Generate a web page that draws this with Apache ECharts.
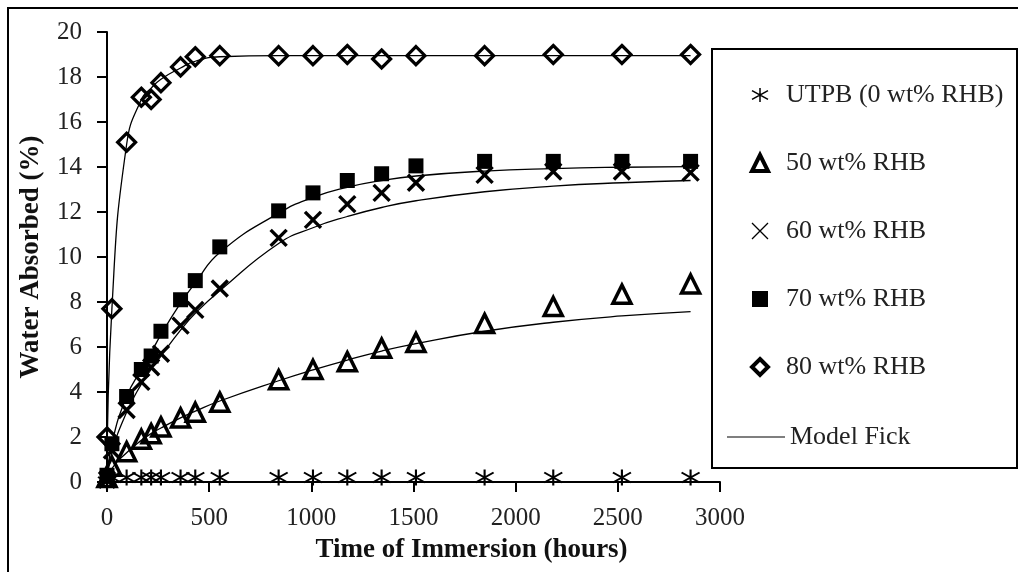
<!DOCTYPE html>
<html>
<head>
<meta charset="utf-8">
<script src="https://cdn.jsdelivr.net/npm/echarts@6/dist/echarts.min.js"></script>
<style>html,body{margin:0;padding:0;background:#fff}#chart{width:1018px;height:572px}</style>
</head>
<body>
<div id="chart"></div>
<script>
// time points (hours) shared by all series
var hours = [0, 24, 96, 168, 216, 264, 360, 432, 552, 840, 1008, 1176, 1344, 1512, 1848, 2184, 2520, 2856];

// measured water absorption (%)
var utpb  = [0, 0.2, 0.2, 0.2, 0.2, 0.2, 0.2, 0.2, 0.2, 0.2, 0.2, 0.2, 0.2, 0.2, 0.2, 0.2, 0.2, 0.2];
var rhb50 = [0.2, 0.7, 1.35, 1.9, 2.15, 2.45, 2.85, 3.1, 3.55, 4.55, 5.0, 5.35, 5.95, 6.2, 7.05, 7.8, 8.35, 8.8];
var rhb60 = [0.1, 1.4, 3.2, 4.45, 5.1, 5.7, 6.95, 7.65, 8.6, 10.85, 11.65, 12.35, 12.85, 13.3, 13.65, 13.8, 13.8, 13.75];
var rhb70 = [0.3, 1.7, 3.8, 5.0, 5.6, 6.7, 8.1, 8.95, 10.45, 12.05, 12.85, 13.4, 13.7, 14.05, 14.25, 14.25, 14.25, 14.25];
var rhb80 = [2.0, 7.7, 15.1, 17.1, 17.0, 17.75, 18.45, 18.9, 18.95, 18.95, 18.95, 19.0, 18.8, 18.95, 18.95, 19.0, 19.0, 19.0];

// Fick model curves at the same times
var fick50 = [0, 0.6, 1.3, 1.85, 2.15, 2.4, 2.85, 3.15, 3.6, 4.5, 4.98, 5.42, 5.82, 6.15, 6.7, 7.1, 7.38, 7.57];
var fick60 = [0, 1.3, 3.1, 4.35, 5.0, 5.6, 6.75, 7.5, 8.5, 10.6, 11.3, 11.8, 12.2, 12.5, 12.9, 13.15, 13.3, 13.4];
var fick70 = [0, 1.7, 3.8, 5.0, 5.75, 6.55, 7.95, 8.85, 10.2, 11.95, 12.65, 13.1, 13.4, 13.6, 13.82, 13.93, 13.99, 14.02];
var fick80 = [0, 7.7, 15.0, 17.0, 17.5, 17.9, 18.4, 18.7, 18.9, 18.95, 18.95, 18.95, 18.95, 18.95, 18.95, 18.95, 18.95, 18.95];

var names = ['UTPB (0 wt% RHB)', '50 wt% RHB', '60 wt% RHB', '70 wt% RHB', '80 wt% RHB'];

function pairs(xs, ys) {
    return xs.map(function (x, i) { return [x, ys[i]]; });
}

var font = 'Liberation Serif';
var asterisk = 'path://M9,0 L9,16 M0,3 L18,13 M0,13 L18,3';
var cross = 'path://M0,0 L16,16 M0,16 L16,0';
var hollow = 'rgba(255,255,255,0)';

function fickLine(values) {
    return {
        name: 'Model Fick', type: 'line', data: pairs(hours, values),
        smooth: 0.5, symbol: 'none', silent: true,
        lineStyle: {color: '#000', width: 1.3}, itemStyle: {color: '#000'}, z: 1
    };
}
function points(name, values, symbol, size, style) {
    return {
        name: name, type: 'scatter', data: pairs(hours, values),
        symbol: symbol, symbolSize: size, itemStyle: style, z: 3
    };
}

var styleAst = {color: hollow, borderColor: '#000', borderWidth: 2, opacity: 1};
var styleTri = {color: hollow, borderColor: '#000', borderWidth: 3.5, opacity: 1};
var styleX   = {color: hollow, borderColor: '#000', borderWidth: 3.4, opacity: 1};
var styleSq  = {color: '#000', borderWidth: 0, opacity: 1};
var styleDia = {color: hollow, borderColor: '#000', borderWidth: 3.2, opacity: 1};

var myChart = echarts.init(document.getElementById('chart'));
var option = {
    backgroundColor: '#fff',
    animation: false,
    grid: {left: 107, top: 32, width: 613, height: 450, containLabel: false},
    xAxis: {
        type: 'value', min: 0, max: 3000, interval: 500,
        axisLine: {lineStyle: {color: '#000', width: 2}},
        axisTick: {show: true, inside: false, length: 10, lineStyle: {color: '#000', width: 2}},
        axisLabel: {margin: 24, fontFamily: font, fontSize: 25, color: '#222',
            formatter: function (v) { return String(v); }},
        splitLine: {show: false},
        name: 'Time of Immersion (hours)', nameLocation: 'middle', nameGap: 55,
        nameTextStyle: {fontFamily: font, fontSize: 27, fontWeight: 'bold', color: '#111', padding: [0, 0, 0, 116]}
    },
    yAxis: {
        type: 'value', min: 0, max: 20, interval: 2,
        axisLine: {show: true, lineStyle: {color: '#000', width: 2}},
        axisTick: {show: true, inside: false, length: 10, lineStyle: {color: '#000', width: 2}},
        axisLabel: {margin: 25, fontFamily: font, fontSize: 25, color: '#222'},
        splitLine: {show: false},
        name: 'Water Absorbed (%)', nameLocation: 'middle', nameGap: 62,
        nameTextStyle: {fontFamily: font, fontSize: 27, fontWeight: 'bold', color: '#111'}
    },
    legend: [{
        orient: 'vertical', left: 745, top: 77, itemWidth: 16, itemHeight: 16, itemGap: 42,
        formatter: '  {name}',
        textStyle: {fontFamily: font, fontSize: 26, color: '#222'},
        data: [
            {name: names[0], icon: asterisk, itemStyle: {color: hollow, borderColor: '#000', borderWidth: 1.5}},
            {name: names[1], icon: 'triangle', itemStyle: {color: hollow, borderColor: '#000', borderWidth: 4}},
            {name: names[2], icon: cross, itemStyle: {color: hollow, borderColor: '#000', borderWidth: 1.3}},
            {name: names[3], icon: 'rect', itemStyle: {color: '#000', borderWidth: 0}},
            {name: names[4], icon: 'diamond', itemStyle: {color: hollow, borderColor: '#000', borderWidth: 4}}
        ]
    }, {
        orient: 'vertical', left: 722, top: 419, itemWidth: 58, itemHeight: 26,
        textStyle: {fontFamily: font, fontSize: 26, color: '#222'},
        data: [{name: 'Model Fick', icon: 'path://M0,12.4 L58,12.4 L58,13.6 L0,13.6 Z M0,0 L0,0.01 M58,26 L58,25.99',
            itemStyle: {color: '#000', borderWidth: 0}}]
    }],
    graphic: [
        {type: 'rect', silent: true, z: -10, shape: {x: 8, y: 8, width: 1100, height: 700},
            style: {fill: 'none', stroke: '#000', lineWidth: 2}},
        {type: 'rect', silent: true, z: 0, shape: {x: 712, y: 49, width: 305, height: 419},
            style: {fill: '#fff', stroke: '#000', lineWidth: 2}}
    ],
    series: [
        fickLine(fick50), fickLine(fick60), fickLine(fick70), fickLine(fick80),
        points(names[0], utpb, asterisk, [18, 16], styleAst),
        points(names[1], rhb50, 'triangle', 18, styleTri),
        points(names[2], rhb60, cross, 16, styleX),
        points(names[3], rhb70, 'rect', 15, styleSq),
        points(names[4], rhb80, 'diamond', 18, styleDia)
    ]
};
myChart.setOption(option);
</script>
</body>
</html>
